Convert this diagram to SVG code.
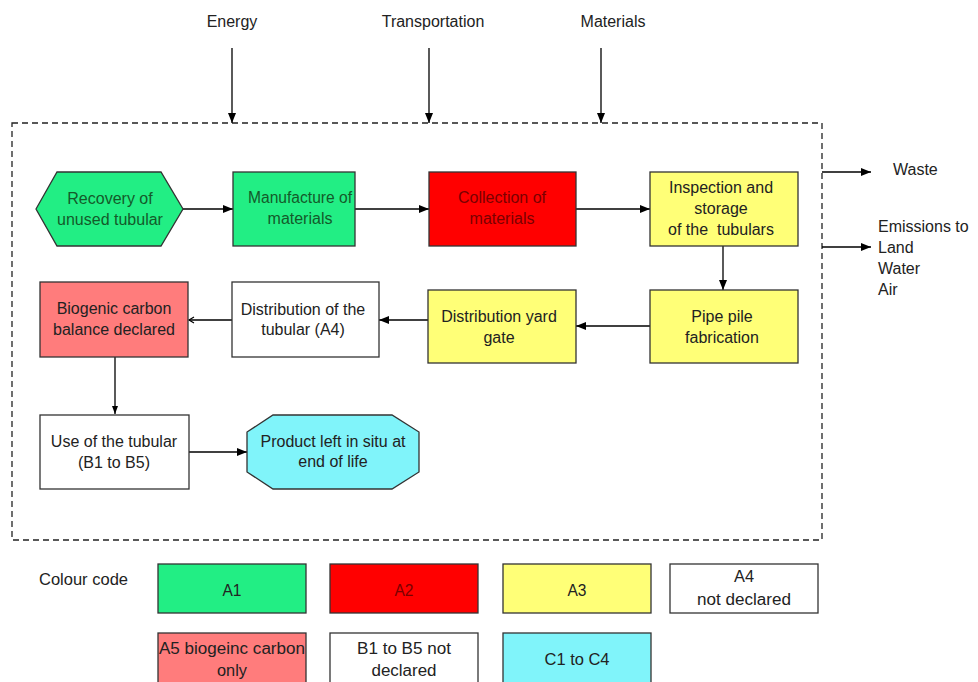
<svg xmlns="http://www.w3.org/2000/svg" width="978" height="682" viewBox="0 0 978 682">
<defs>
<marker id="ah" markerWidth="10" markerHeight="8" refX="10" refY="4" orient="auto" markerUnits="userSpaceOnUse"><path d="M0,0 L10,4 L0,8 Z" fill="#000"/></marker>
<marker id="sh" markerWidth="8" markerHeight="6" refX="8" refY="3" orient="auto" markerUnits="userSpaceOnUse"><path d="M0,0 L8,3 L0,6 Z" fill="#000"/></marker>
<marker id="oh" markerWidth="8" markerHeight="8" refX="6" refY="4" orient="auto" markerUnits="userSpaceOnUse"><path d="M1,1 L6,4 L1,7" fill="none" stroke="#000" stroke-width="1.2"/></marker>
<style>
text{font-family:"Liberation Sans",Arial,sans-serif;font-size:16px;fill:#222;text-anchor:middle}
.lbl{text-anchor:start}
.lg{font-size:16px}
.box{stroke:#333;stroke-width:1.3}
.g{fill:#22EE84}.r{fill:#FF0000}.y{fill:#FFFF77}.w{fill:#FFFFFF}.p{fill:#FF7C7C}.c{fill:#80F4FA}
.gt{fill:#145a2a}.rt{fill:#7a0000}
.cn{stroke:#000;stroke-width:1.3;fill:none}
</style>
</defs>
<rect width="978" height="682" fill="#fff"/>
<rect x="12" y="123" width="810" height="417" fill="none" stroke="#222" stroke-width="1.3" stroke-dasharray="6,4"/>
<g id="labels">
<text x="232" y="27">Energy</text>
<text x="433" y="27">Transportation</text>
<text x="613" y="27">Materials</text>
<text class="lbl" x="893" y="175">Waste</text>
<text class="lbl" x="878" y="232">Emissions to</text>
<text class="lbl" x="878" y="253">Land</text>
<text class="lbl" x="878" y="274">Water</text>
<text class="lbl" x="878" y="295">Air</text>
</g>
<g id="connectors">
<line class="cn" x1="232" y1="48" x2="232" y2="123" marker-end="url(#ah)"/>
<line class="cn" x1="429" y1="48" x2="429" y2="123" marker-end="url(#ah)"/>
<line class="cn" x1="601" y1="48" x2="601" y2="123" marker-end="url(#ah)"/>
<line class="cn" x1="822" y1="172" x2="871" y2="172" marker-end="url(#ah)"/>
<line class="cn" x1="822" y1="247" x2="871" y2="247" marker-end="url(#ah)"/>
<line class="cn" x1="183" y1="209" x2="233" y2="209" marker-end="url(#ah)"/>
<line class="cn" x1="355" y1="209" x2="429" y2="209" marker-end="url(#ah)"/>
<line class="cn" x1="576" y1="209" x2="650" y2="209" marker-end="url(#ah)"/>
<line class="cn" x1="723" y1="246" x2="723" y2="290" marker-end="url(#ah)"/>
<line class="cn" x1="650" y1="326" x2="576" y2="326" marker-end="url(#ah)"/>
<line class="cn" x1="428" y1="320" x2="379" y2="320" marker-end="url(#ah)"/>
<line class="cn" x1="232" y1="320" x2="189" y2="320" marker-end="url(#oh)"/>
<line class="cn" x1="115" y1="357" x2="115" y2="414" marker-end="url(#sh)"/>
<line class="cn" x1="189" y1="452" x2="247" y2="452" marker-end="url(#ah)"/>
</g>
<g id="recovery"><polygon class="box g" points="36,209 57,172 161,172 183,209 161,246 57,246"/><text class="gt" x="110" y="204">Recovery of</text><text class="gt" x="110" y="225">unused tubular</text></g>
<g id="manufacture"><rect class="box g" x="233" y="172" width="122" height="74"/><text class="gt" x="300" y="203" textLength="104" lengthAdjust="spacingAndGlyphs">Manufacture of</text><text class="gt" x="300" y="224">materials</text></g>
<g id="collection"><rect class="box r" x="429" y="172" width="147" height="74"/><text class="rt" x="502" y="203">Collection of</text><text class="rt" x="502" y="224">materials</text></g>
<g id="inspection"><rect class="box y" x="650" y="172" width="148" height="74"/><text x="721" y="193">Inspection and</text><text x="721" y="214">storage</text><text x="721" y="235" xml:space="preserve">of the  tubulars</text></g>
<g id="pipepile"><rect class="box y" x="650" y="290" width="148" height="73"/><text x="722" y="322">Pipe pile</text><text x="722" y="343">fabrication</text></g>
<g id="yardgate"><rect class="box y" x="428" y="290" width="148" height="73"/><text x="499" y="322">Distribution yard</text><text x="499" y="343">gate</text></g>
<g id="distribution"><rect class="box w" x="232" y="282" width="147" height="75"/><text x="303" y="315">Distribution of the</text><text x="303" y="335">tubular (A4)</text></g>
<g id="biogenic"><rect class="box p" x="40" y="282" width="148" height="75"/><text x="114" y="314">Biogenic carbon</text><text x="114" y="335">balance declared</text></g>
<g id="use"><rect class="box w" x="40" y="415" width="149" height="74"/><text x="114" y="447">Use of the tubular</text><text x="114" y="468">(B1 to B5)</text></g>
<g id="product"><polygon class="box c" points="273,415 392,415 419,432 419,472 392,489 273,489 247,472 247,432"/><text x="333" y="447">Product left in situ at</text><text x="333" y="467">end of life</text></g>
<g id="legend">
<text class="lg lbl" x="39" y="585" textLength="89" lengthAdjust="spacingAndGlyphs">Colour code</text>
<rect class="box g" x="158" y="564" width="148" height="49"/><text class="lg" x="232" y="596" textLength="19" lengthAdjust="spacingAndGlyphs">A1</text>
<rect class="box r" x="330" y="564" width="148" height="49"/><text class="lg rt" x="404" y="596" textLength="19" lengthAdjust="spacingAndGlyphs">A2</text>
<rect class="box y" x="503" y="564" width="148" height="49"/><text class="lg" x="577" y="596" textLength="19" lengthAdjust="spacingAndGlyphs">A3</text>
<rect class="box w" x="670" y="564" width="148" height="49"/><text class="lg" x="744" y="582" textLength="20" lengthAdjust="spacingAndGlyphs">A4</text><text class="lg" x="744" y="605" textLength="94" lengthAdjust="spacingAndGlyphs">not declared</text>
<rect class="box p" x="158" y="633" width="148" height="60"/><text class="lg" x="232" y="654" textLength="146" lengthAdjust="spacingAndGlyphs">A5 biogeinc carbon</text><text class="lg" x="232" y="676" textLength="30" lengthAdjust="spacingAndGlyphs">only</text>
<rect class="box w" x="330" y="633" width="148" height="60"/><text class="lg" x="404" y="654" textLength="94" lengthAdjust="spacingAndGlyphs">B1 to B5 not</text><text class="lg" x="404" y="676" textLength="65" lengthAdjust="spacingAndGlyphs">declared</text>
<rect class="box c" x="503" y="633" width="148" height="60"/><text class="lg" x="577" y="665" textLength="65" lengthAdjust="spacingAndGlyphs">C1 to C4</text>
</g>
</svg>
